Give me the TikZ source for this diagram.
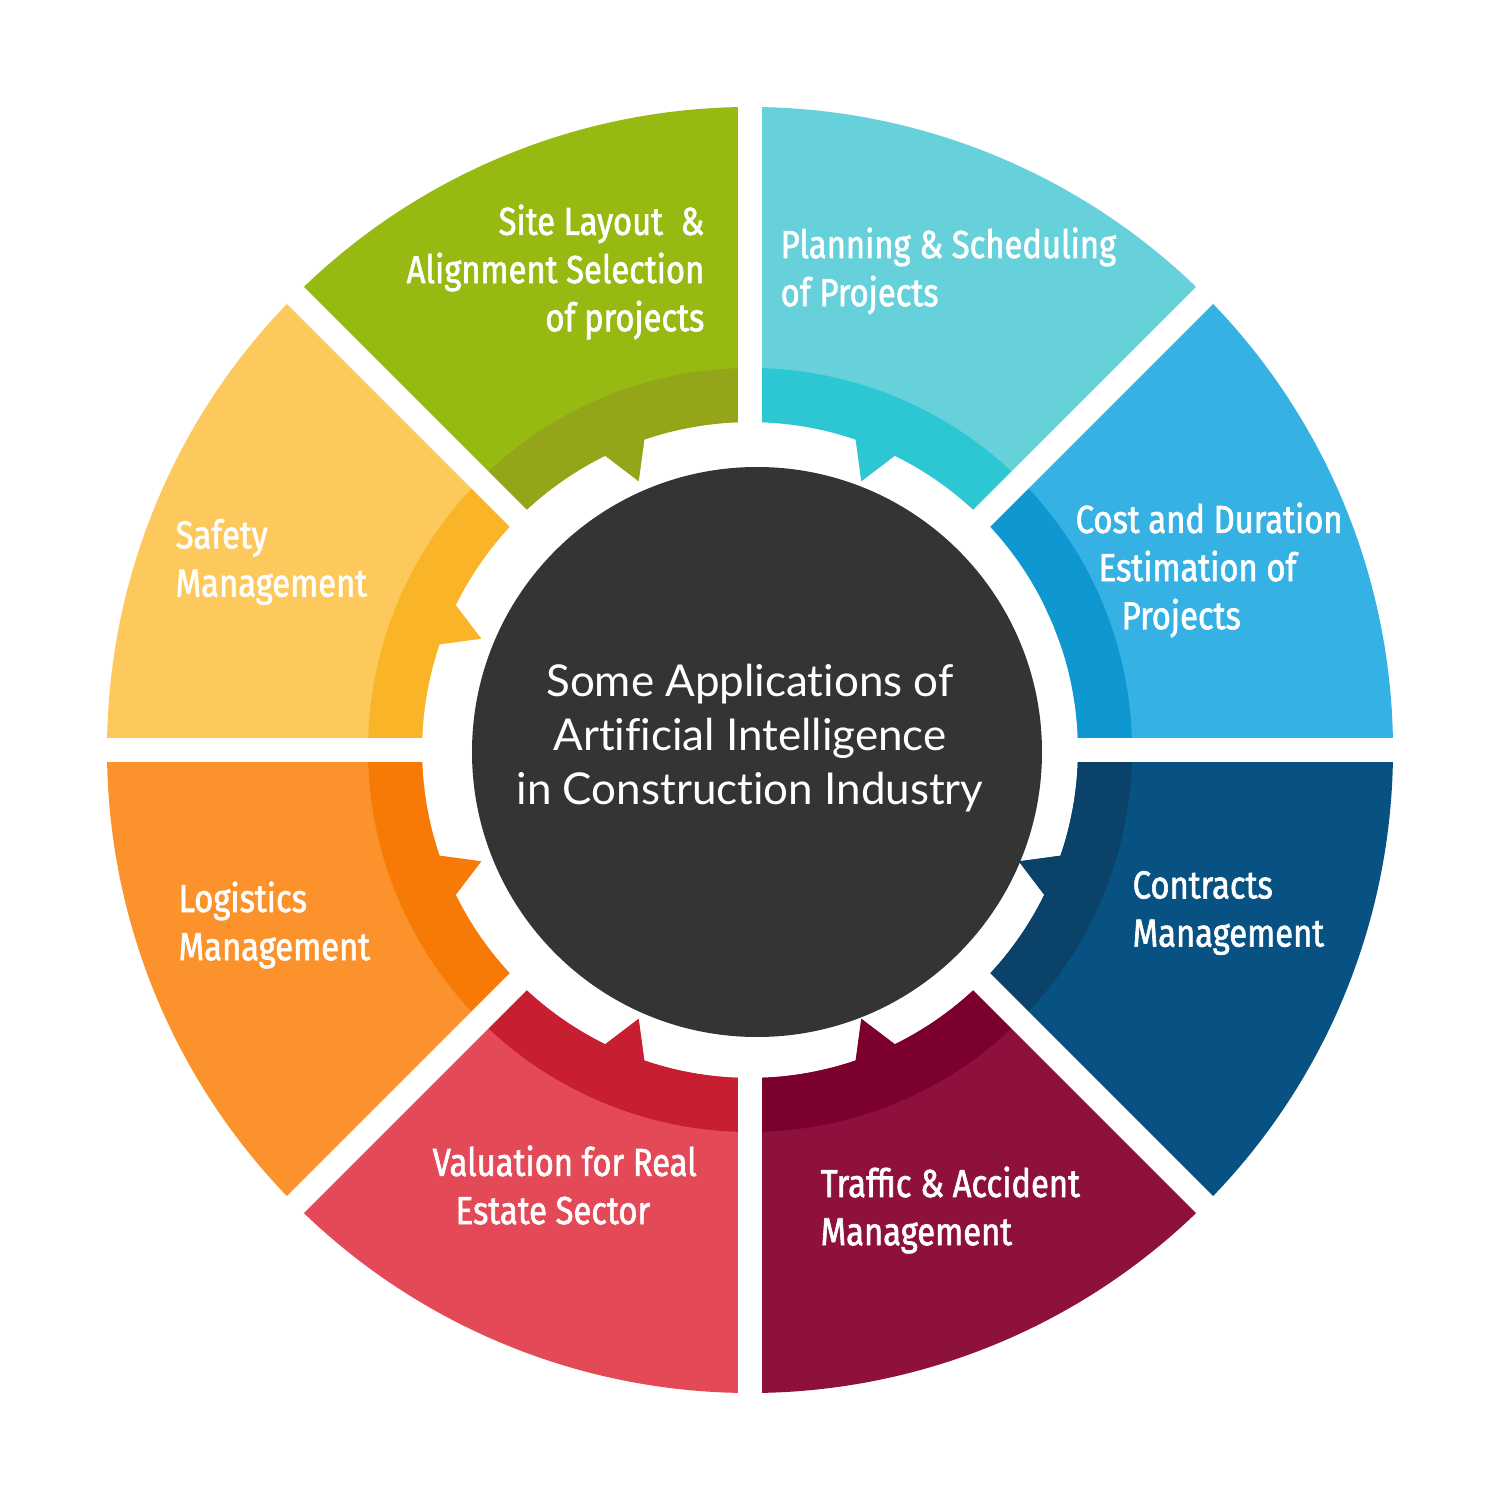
\documentclass[tikz,border=0pt]{standalone}
\usepackage{fontspec}
\usepackage{xcolor}
\newfontfamily\segfont[FakeStretch=0.84, FakeBold=1.6]{Fira Sans}
\newfontfamily\hubfont[Ligatures=NoCommon]{Lato}

% segment colours: light face / darker inner band
\definecolor{costL}{HTML}{36B1E3}
\definecolor{costD}{HTML}{0F97D1}
\definecolor{planL}{HTML}{66D1DA}
\definecolor{planD}{HTML}{2DC6D3}
\definecolor{siteL}{HTML}{97BA12}
\definecolor{siteD}{HTML}{94A51A}
\definecolor{safeL}{HTML}{FDC95D}
\definecolor{safeD}{HTML}{F9B428}
\definecolor{logiL}{HTML}{FC922C}
\definecolor{logiD}{HTML}{F87A06}
\definecolor{valuL}{HTML}{E34957}
\definecolor{valuD}{HTML}{C71F31}
\definecolor{trafL}{HTML}{8D113C}
\definecolor{trafD}{HTML}{7B002D}
\definecolor{contL}{HTML}{075282}
\definecolor{contD}{HTML}{0B4269}
\definecolor{hubfill}{HTML}{333433}

\begin{document}
\begin{tikzpicture}[
    x=0.1mm, y=0.1mm,
    segtext/.style={text=white, font=\segfont\fontsize{11.1}{13.7}\selectfont, inner sep=0pt, align=left},
    hubtext/.style={text=white, font=\hubfont\fontsize{12.5}{15.4}\selectfont, inner sep=0pt, align=center},
    gap/.style={white, line width=2.4mm}
]
\useasboundingbox (-750,-750) rectangle (750,750);

% ===== SEGMENTS =====
% start angle / face colour / band colour / radius of the tooth tip
\foreach \a/\lite/\dark/\tip in {0/costL/costD/328, 45/planL/planD/291, 90/siteL/siteD/291,
    135/safeL/safeD/291, 180/logiL/logiD/291, 225/valuL/valuD/291,
    270/trafL/trafD/291, 315/contL/contD/291}{
  \pgfmathsetmacro\b{\a+45}
  \pgfmathsetmacro\c{\a+22.5}
  \pgfmathsetmacro\cl{\c-3.7}
  \pgfmathsetmacro\cr{\c+3.7}
  % face
  \fill[\lite] (\a:643) arc[start angle=\a, end angle=\b, radius=643]
    -- (\b:328) arc[start angle=\b, end angle=\cr, radius=328]
    -- (\c:\tip) -- (\cl:328) arc[start angle=\cl, end angle=\a, radius=328] -- cycle;
  % inner band
  \fill[\dark] (\a:382) arc[start angle=\a, end angle=\b, radius=382]
    -- (\b:328) arc[start angle=\b, end angle=\cr, radius=328]
    -- (\c:\tip) -- (\cl:328) arc[start angle=\cl, end angle=\a, radius=328] -- cycle;
}

% white gaps between the segments
\foreach \g in {0,45,90,135}
  \draw[gap] (\g:670) -- ({\g+180}:670);

% ===== HUB =====
\fill[hubfill] (7,-2) circle[radius=285];
\node[hubtext] (hub) at (0,12) {Some Applications of\\Artificial Intelligence\\in Construction Industry};

% ===== LABELS =====
\node[segtext, anchor=east, align=right] (site) at (-45,478) {Site Layout\ \ \&\\Alignment Selection\\of projects};
\node[segtext, anchor=west] (plan) at (30,479) {Planning \& Scheduling\\of Projects};
\node[segtext, anchor=west] (cost) at (325,180) {Cost and Duration\\\hspace*{2.3mm}Estimation of\\\hspace*{4.6mm}Projects};
\node[segtext, anchor=west] (contract) at (382,-163) {Contracts\\Management};
\node[segtext, anchor=west] (traffic) at (70,-460) {Traffic \& Accident\\Management};
\node[segtext, anchor=west] (valuation) at (-318,-435) {Valuation for Real\\\hspace*{2.3mm}Estate Sector};
\node[segtext, anchor=west] (logistics) at (-572,-175) {Logistics\\Management};
\node[segtext, anchor=west] (safety) at (-575,188) {Safety\\Management};

\end{tikzpicture}
\end{document}
